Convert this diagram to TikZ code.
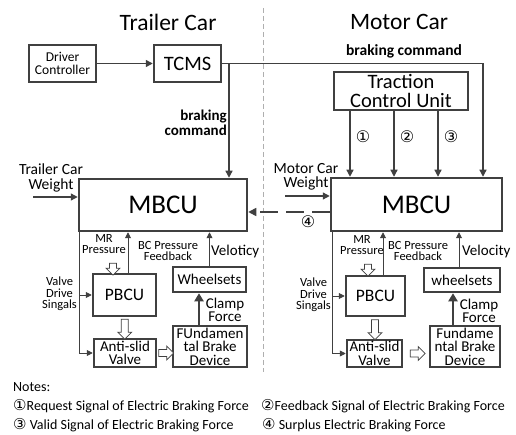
\documentclass[tikz,border=0pt]{standalone}
\usepackage{fontspec}
\setmainfont{Carlito}
\newfontfamily\circfont{DejaVu Sans}
\usetikzlibrary{arrows.meta,calc,shapes.arrows}
\definecolor{ln}{RGB}{64,64,64}
\definecolor{divider}{RGB}{175,175,175}
\tikzset{
  blk/.style={draw=ln,line width=2.5pt,inner sep=0pt,align=center},
  sig/.style={draw=ln,line width=1.3pt,-{Triangle[length=7pt,width=7pt]}},
  thinsig/.style={draw=ln,line width=0.9pt,-{Triangle[length=6pt,width=6pt]}},
  hol/.style={single arrow,draw=ln,line width=0.7pt,fill=white,inner sep=3pt,
    single arrow head extend=3.5pt,minimum width=14pt,shape border rotate=270},
  lbl/.style={align=center,inner sep=0pt,font=\fontsize{12.5}{11.5}\selectfont},
  big/.style={align=center,inner sep=0pt,font=\fontsize{15}{13.5}\selectfont},
  circ/.style={inner sep=0pt,font=\circfont\fontsize{16}{16}\selectfont},
}

\begin{document}
\begin{tikzpicture}[x=1pt,y=-1pt]
 \useasboundingbox (0,0) rectangle (516,435);
 \draw[divider,line width=0.8pt,dash pattern=on 5pt off 3pt] (263,8) -- (263,372);
 \node[inner sep=0pt,font=\fontsize{23.5}{23.5}\selectfont] (ttl) at (168,22) {Trailer Car};
 \node[inner sep=0pt,font=\fontsize{23.5}{23.5}\selectfont] (mtl) at (399,22) {Motor Car};

 % upper blocks
 \node[blk,minimum width=67pt,minimum height=37pt,font=\fontsize{13.5}{13.5}\selectfont] (dc) at (62.5,63.5) {Driver\\Controller};
 \node[blk,minimum width=67pt,minimum height=37pt,font=\fontsize{20.5}{20.5}\selectfont] (tcms) at (187.5,63.5) {TCMS};
 \node[blk,minimum width=134pt,minimum height=38pt,font=\fontsize{20.5}{19}\selectfont] (tcu) at (401,91) {Traction\\Control Unit};
 \node[blk,minimum width=168pt,minimum height=52pt,font=\fontsize{27}{27}\selectfont] (tmbcu) at (163,205) {MBCU};
 \node[blk,minimum width=171pt,minimum height=53pt,font=\fontsize{27}{27}\selectfont] (mmbcu) at (416.5,204.5) {MBCU};

 \draw[sig] (dc) -- (tcms);
 \coordinate (bcm) at (483,63.5);
 \draw[sig] (tcms.east) -- (bcm) -- (bcm |- mmbcu.north);
 \coordinate (tbr) at (229,63.5);
 \draw[sig] (tbr) -- (tbr |- tmbcu.north);
 \node[anchor=east,align=right,inner sep=0pt,font=\bfseries\fontsize{15}{15}\selectfont] (tbc) at (227,123) {braking\\command};
 \node[inner sep=0pt,font=\bfseries\fontsize{15.5}{15.5}\selectfont] (mbc) at (404,51) {braking command};

 \foreach \x/\c/\n in {350/①/1,394/②/2,438/③/3} {
   \draw[sig] (\x,0 |- tcu.south) -- (\x,0 |- mmbcu.north);
   \node[circ] (c\n) at (\x+13,137) {\c};
 }

 \node[inner sep=0pt,align=center,font=\fontsize{15.5}{14.5}\selectfont] (twl) at (51,178) {Trailer Car\\Weight};
 \coordinate (twa) at (33,197);
 \draw[sig] (twa) -- (twa -| tmbcu.west);
 \node[inner sep=0pt,align=center,font=\fontsize{15.5}{14.5}\selectfont] (mwl) at (306,177) {Motor Car\\Weight};
 \coordinate (mwa) at (285,196);
 \draw[sig] (mwa) -- (mwa -| mmbcu.west);

 \coordinate (sp) at ([yshift=-7.5pt]mmbcu.west);
 \draw[ln,line width=1.6pt,dash pattern=on 18pt off 8pt,-{Triangle[length=8pt,width=8pt]}] (sp) -- (sp -| tmbcu.east);
 \node[circ] (c4) at (308,222) {④};

 % trailer car lower blocks
 \node[blk,minimum width=63pt,minimum height=42pt,font=\fontsize{17.5}{17.5}\selectfont] (tpbcu) at (124.5,295) {PBCU};
 \node[blk,minimum width=73pt,minimum height=25pt,font=\fontsize{15}{15}\selectfont] (twhl) at (209.5,279.5) {Wheelsets};
 \node[blk,minimum width=74pt,minimum height=41pt,big] (tfbd) at (210,346.5) {FUndamen\\tal Brake\\Device};
 \node[blk,minimum width=62pt,minimum height=28pt,big] (tasv) at (125,353) {Anti-slid\\Valve};

 \coordinate (tvd) at ([xshift=2pt]tmbcu.south west);
 \draw[thinsig] (tvd) |- (tasv.west);
 \draw[thinsig] (tvd |- tpbcu.west) -- (tpbcu.west);
 \node[lbl,anchor=east] (tvl) at (77,294) {Valve\\Drive\\Singals};
 \node[hol,minimum height=12pt] (tmr) at (113,267.5) {};
 \node[lbl] (tmrl) at (104,244) {MR\\Pressure};
 \coordinate (tfb) at ([xshift=3.5pt]tpbcu.north);
 \draw[thinsig] (tfb) -- (tfb |- tmbcu.south);
 \node[lbl] (tfbl) at (168,251) {BC Pressure\\Feedback};
 \draw[thinsig] (twhl.north) -- (twhl.north |- tmbcu.south);
 \node[anchor=west,inner sep=0pt,font=\fontsize{15}{15}\selectfont] (tvel) at (211,252) {Veloticy};
 \coordinate (tcf) at ([xshift=-11pt]tfbd.north);
 \draw[ln,line width=2.5pt,-{Triangle[length=8pt,width=9pt]}] (tcf) -- (tcf |- twhl.south);
 \node[big] (tcfl) at (225,310) {Clamp\\Force};
 \node[hol,minimum height=20pt] (tha) at ($(tpbcu.south)!.5!(tasv.north)$) {};
 \node[hol,shape border rotate=0,minimum height=15pt] (thb) at ($(tasv.east)!.5!(tasv.east -| tfbd.west)$) {};

 % motor car lower blocks
 \node[blk,minimum width=59pt,minimum height=40pt,font=\fontsize{17.5}{17.5}\selectfont] (mpbcu) at (375.5,296) {PBCU};
 \node[blk,minimum width=76pt,minimum height=24pt,font=\fontsize{15}{15}\selectfont] (mwhl) at (462,280) {wheelsets};
 \node[blk,minimum width=70pt,minimum height=41pt,big] (mfbd) at (465,346.5) {Fundame\\ntal Brake\\Device};
 \node[blk,minimum width=55pt,minimum height=27pt,big] (masv) at (374.5,353.5) {Anti-slid\\Valve};

 \coordinate (mvd) at ([xshift=2.5pt]mmbcu.south west);
 \draw[thinsig] (mvd) |- (masv.west);
 \draw[thinsig] (mvd |- mpbcu.west) -- (mpbcu.west);
 \node[lbl,anchor=east] (mvl) at (331,295) {Valve\\Drive\\Singals};
 \node[hol,minimum height=12pt] (mmr) at (368,268.5) {};
 \node[lbl] (mmrl) at (362,245) {MR\\Pressure};
 \coordinate (mfb) at ([xshift=7.5pt]mpbcu.north);
 \draw[thinsig] (mfb) -- (mfb |- mmbcu.south);
 \node[lbl] (mfbl) at (418,251) {BC Pressure\\Feedback};
 \coordinate (mve) at ([xshift=-3pt]mwhl.north);
 \draw[thinsig] (mve) -- (mve |- mmbcu.south);
 \node[anchor=west,inner sep=0pt,font=\fontsize{15}{15}\selectfont] (mvel) at (462,252) {Velocity};
 \coordinate (mcf) at ([xshift=-12pt]mfbd.north);
 \draw[ln,line width=2.5pt,-{Triangle[length=8pt,width=9pt]}] (mcf) -- (mcf |- mwhl.south);
 \node[big] (mcfl) at (479,311) {Clamp\\Force};
 \node[hol,minimum height=20pt] (mha) at ($(mpbcu.south)!.5!(masv.north)$) {};
 \node[hol,shape border rotate=0,minimum height=15pt] (mhb) at ($(masv.east)!.5!(masv.east -| mfbd.west)$) {};

 % notes
 \node[anchor=west,inner sep=0pt,font=\fontsize{14}{14}\selectfont] (nt) at (13,387) {Notes:};
 \foreach \x/\y/\c/\t/\n in {13/406/①/Request Signal of Electric Braking Force/1,
     261/406/②/Feedback Signal of Electric Braking Force/2,
     13/425/③/ Valid Signal of Electric Braking Force/3,
     262/425/④/ Surplus Electric Braking Force/4} {
   \node[anchor=west,inner sep=0pt,font=\fontsize{14}{14}\selectfont] (n\n) at (\x,\y) {{\circfont\fontsize{15}{15}\selectfont\c}\t};
 }
\end{tikzpicture}
\end{document}
